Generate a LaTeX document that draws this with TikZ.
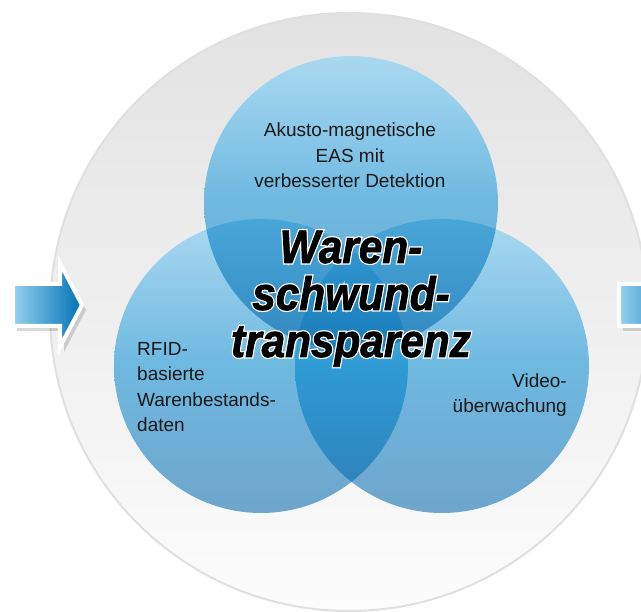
\documentclass[tikz,border=0pt]{standalone}
\usepackage{fontspec}
\setmainfont{Liberation Sans}
\newfontfamily\bigfont{Liberation Sans}[FakeStretch=0.9, FakeBold=1.6]
\newfontfamily\halofont{Liberation Sans}[FakeStretch=0.9, FakeBold=7]
\usetikzlibrary{calc}
\definecolor{venntop}{HTML}{6ABDE6}
\definecolor{vennmid}{HTML}{0084CA}
\definecolor{vennbot}{HTML}{0062A6}
\definecolor{arrowlight}{HTML}{95D0F0}
\definecolor{arrowdark}{HTML}{0072B4}
\definecolor{ringtop}{HTML}{E2E2E2}
\definecolor{ringbot}{HTML}{FCFCFC}
\definecolor{ringline}{HTML}{E0E0E0}
\tikzset{
	venn/.style={top color=venntop, bottom color=vennbot, middle color=vennmid, fill opacity=0.57},
	smalltext/.style={inner sep=0pt, text=black!90, font=\fontsize{19}{25.5}\selectfont},
	bigtext/.style={inner sep=0pt, align=center, anchor=base}
}
\def\bigsize{\bfseries\itshape\fontsize{47}{47}\selectfont}
\def\blockarrow(#1){
	\fill[black, opacity=0.15, shift={(#1)}, xshift=4, yshift=-5] (0,-21) -- (47,-21) -- (47,-42) -- (69,0) -- (47,42) -- (47,21) -- (0,21) -- cycle;
	\draw[white, line width=4pt, left color=arrowlight, right color=arrowdark, shift={(#1)}] (0,-21) -- (47,-21) -- (47,-42) -- (69,0) -- (47,42) -- (47,21) -- (0,21) -- cycle;
}

\begin{document}
\begin{tikzpicture}[x=1pt, y=1pt]
		%%%%% START %%%%%
		
		\useasboundingbox (0,0) rectangle (641,612);
		\clip (0,0) rectangle (641,612);
		\fill[white] (0,0) rectangle (641,612);
		
		\draw[draw=ringline, line width=2pt, top color=ringtop, bottom color=ringbot] (349,300) circle (299);
		
		\blockarrow(13,307)
		\blockarrow(619,307)
		
		% white ground below the circles
		\fill[white] (261,246) circle (147) (442,246) circle (147) (351,409) circle (147);
		\shade[venn] (261,246) circle (147);
		\shade[venn] (442,246) circle (147);
		\shade[venn] (351,409) circle (147);
		
		\node[smalltext, align=center, anchor=base] (eas) at (350,424) {Akusto-magnetische\\EAS mit\\verbesserter Detektion};
		\node[smalltext, align=left, anchor=base west] (rfid) at (137,180) {RFID-\\basierte\\Warenbestands-\\daten};
		\node[smalltext, align=right, anchor=base east] (video) at (567,199) {Video-\\überwachung};
		
		\node[bigtext, text=white, font=\halofont\bigsize] (schwundhalo) at (351,255) {Waren-\\schwund-\\transparenz};
		\node[bigtext, text=black, font=\bigfont\bigsize] (schwund) at (351,255) {Waren-\\schwund-\\transparenz};
		
		%%%%% END %%%%%
\end{tikzpicture}
\end{document}
